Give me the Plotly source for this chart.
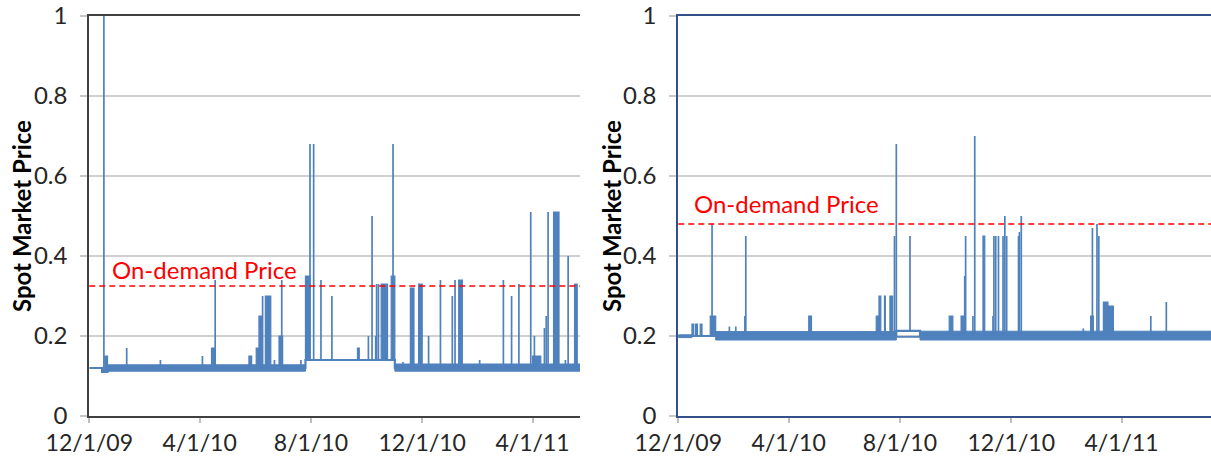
import plotly.graph_objects as go
import pandas as pd

FONT = "Lato"
BLUE = "#4F81BD"

tick_vals = ["2009-12-01", "2010-04-01", "2010-08-01", "2010-12-01", "2011-04-01"]
tick_text = ["12/1/09", "4/1/10", "8/1/10", "12/1/10", "4/1/11"]
y_ticks = [0, 0.2, 0.4, 0.6, 0.8, 1]
y_tick_text = ["0", "0.2", "0.4", "0.6", "0.8", "1"]

# ---------------- left chart data ----------------
left_range = ["2009-12-01", "2011-05-23"]
left_on_demand = 0.325
left_level_dates = ["2009-12-01", "2009-12-15", "2009-12-21", "2010-07-26", "2010-11-01", "2011-05-23"]
left_level_values = [0.12, 0.11, 0.12, 0.14, 0.12, 0.12]
left_band_start = ["2009-12-21", "2010-11-01"]
left_band_end = ["2010-07-26", "2011-05-23"]
left_band_low = [0.112, 0.112]
left_band_high = [0.128, 0.13]
left_spike_dates = ["2009-12-17", "2010-01-11", "2010-02-17", "2010-04-04", "2010-04-18",
                    "2010-06-09", "2010-06-22", "2010-06-30", "2010-07-21", "2010-07-31",
                    "2010-08-04", "2010-08-12", "2010-08-24", "2010-10-03", "2010-10-07",
                    "2010-10-11", "2010-10-12", "2010-10-14", "2010-10-30", "2010-11-10",
                    "2010-12-08", "2010-12-21", "2011-01-03", "2011-01-06", "2011-02-02",
                    "2011-02-15", "2011-02-28", "2011-03-09", "2011-03-17", "2011-03-30",
                    "2011-04-03", "2011-04-14", "2011-04-16", "2011-04-18", "2011-05-07",
                    "2011-05-10"]
left_spike_values = [1.0, 0.17, 0.14, 0.15, 0.34,
                     0.30, 0.14, 0.34, 0.14, 0.68,
                     0.68, 0.34, 0.30, 0.20, 0.50,
                     0.20, 0.33, 0.33, 0.68, 0.135,
                     0.20, 0.34, 0.30, 0.34, 0.14,
                     0.13, 0.34, 0.30, 0.33, 0.51,
                     0.20, 0.22, 0.25, 0.51, 0.14,
                     0.40]
left_block_start = ["2009-12-18", "2010-04-14", "2010-05-25", "2010-06-02", "2010-06-05",
                    "2010-06-12", "2010-06-27", "2010-07-26", "2010-09-21", "2010-10-17",
                    "2010-10-28", "2010-11-18", "2010-11-27", "2011-01-10", "2011-04-01",
                    "2011-04-24", "2011-05-17"]
left_block_end = ["2009-12-21", "2010-04-18", "2010-05-28", "2010-06-05", "2010-06-08",
                  "2010-06-18", "2010-07-01", "2010-07-31", "2010-09-23", "2010-10-24",
                  "2010-11-01", "2010-11-22", "2010-12-01", "2011-01-14", "2011-04-10",
                  "2011-04-30", "2011-05-20"]
left_block_values = [0.15, 0.17, 0.15, 0.17, 0.25,
                     0.30, 0.20, 0.35, 0.17, 0.33,
                     0.35, 0.32, 0.33, 0.34, 0.15,
                     0.51, 0.33]

# ---------------- right chart data ----------------
right_range = ["2009-12-01", "2011-07-08"]
right_on_demand = 0.48
right_level_dates = ["2009-12-01", "2010-07-28", "2010-08-23", "2011-07-08"]
right_level_values = [0.2, 0.213, 0.2, 0.2]
right_band_start = ["2009-12-01", "2010-01-11", "2010-07-28", "2010-08-23"]
right_band_end = ["2009-12-16", "2010-07-28", "2010-08-23", "2011-07-08"]
right_band_low = [0.196, 0.19, 0.197, 0.19]
right_band_high = [0.203, 0.211, 0.199, 0.212]
right_spike_dates = ["2010-01-07", "2010-01-26", "2010-02-02", "2010-02-12", "2010-02-13",
                     "2010-07-26", "2010-07-28", "2010-08-12", "2010-10-11", "2010-10-12",
                     "2010-10-20", "2010-10-22", "2010-11-11", "2010-11-12", "2010-11-14",
                     "2010-11-17", "2010-11-22", "2010-11-24", "2010-11-26", "2010-12-09",
                     "2010-12-10", "2010-12-12", "2011-02-18", "2011-02-28", "2011-03-05",
                     "2011-03-07", "2011-05-03", "2011-05-20"]
right_spike_values = [0.48, 0.224, 0.224, 0.25, 0.45,
                      0.45, 0.68, 0.45, 0.35, 0.45,
                      0.25, 0.70, 0.25, 0.45, 0.45,
                      0.45, 0.45, 0.50, 0.45, 0.45,
                      0.46, 0.50, 0.219, 0.47, 0.48,
                      0.45, 0.25, 0.285]
right_block_start = ["2009-12-16", "2009-12-20", "2009-12-25", "2010-01-05", "2010-04-23",
                     "2010-07-06", "2010-07-09", "2010-07-15", "2010-07-21", "2010-09-24",
                     "2010-10-07", "2010-10-31", "2011-02-26", "2011-03-12", "2011-03-17"]
right_block_end = ["2009-12-18", "2009-12-22", "2009-12-27", "2010-01-11", "2010-04-26",
                   "2010-07-09", "2010-07-11", "2010-07-16", "2010-07-24", "2010-09-28",
                   "2010-10-10", "2010-11-02", "2011-03-01", "2011-03-17", "2011-03-23"]
right_block_values = [0.23, 0.23, 0.23, 0.25, 0.25,
                      0.25, 0.30, 0.30, 0.30, 0.25,
                      0.25, 0.45, 0.25, 0.285, 0.275]


def level_at(level_dates, level_values, d):
    ts = pd.to_datetime(level_dates)
    t = pd.Timestamp(d)
    val = level_values[0]
    for td, v in zip(ts, level_values):
        if td <= t:
            val = v
    return val


def add_panel(fig, col, level_dates, level_values, band_start, band_end, band_low, band_high,
              spike_dates, spike_values, block_start, block_end, block_values):
    xa = "x" if col == 1 else "x2"
    ya = "y" if col == 1 else "y2"
    # noisy bands (one closed polygon each)
    for s, e, lo, hi in zip(band_start, band_end, band_low, band_high):
        fig.add_trace(go.Scatter(x=[s, s, e, e, s], y=[lo, hi, hi, lo, lo], mode="lines",
                                 fill="toself", fillcolor=BLUE,
                                 line=dict(color=BLUE, width=1), hoverinfo="skip",
                                 showlegend=False, xaxis=xa, yaxis=ya))
    # plateaus of dense spikes
    for s, e, v in zip(block_start, block_end, block_values):
        b = level_at(level_dates, level_values, s)
        fig.add_trace(go.Scatter(x=[s, s, e, e, s], y=[b, v, v, b, b], mode="lines",
                                 fill="toself", fillcolor=BLUE,
                                 line=dict(color=BLUE, width=1.2), hoverinfo="skip",
                                 showlegend=False, xaxis=xa, yaxis=ya))
    # baseline level
    fig.add_trace(go.Scatter(x=level_dates, y=level_values, mode="lines",
                             line=dict(color=BLUE, width=2.2, shape="hv"),
                             showlegend=False, xaxis=xa, yaxis=ya))
    # spikes
    sx, sy = [], []
    for d, v in zip(spike_dates, spike_values):
        b = level_at(level_dates, level_values, d)
        sx += [d, d, None]
        sy += [b, v, None]
    fig.add_trace(go.Scatter(x=sx, y=sy, mode="lines", line=dict(color=BLUE, width=1.7),
                             showlegend=False, xaxis=xa, yaxis=ya))


fig = go.Figure()
add_panel(fig, 1, left_level_dates, left_level_values, left_band_start, left_band_end,
          left_band_low, left_band_high, left_spike_dates, left_spike_values,
          left_block_start, left_block_end, left_block_values)
add_panel(fig, 2, right_level_dates, right_level_values, right_band_start, right_band_end,
          right_band_low, right_band_high, right_spike_dates, right_spike_values,
          right_block_start, right_block_end, right_block_values)

W, H = 1211, 457
left_dom = [89.3 / W, 580 / W]
right_dom = [678.3 / W, 1.0]
FS = 24

xtickfont = dict(family=FONT, size=23, color="#262626")
ytickfont = dict(family=FONT, size=FS, color="#262626")
xcommon = dict(type="date", tickvals=tick_vals, ticktext=tick_text, tickfont=xtickfont,
               ticks="outside", ticklen=5, tickcolor="#bfbfbf", tickwidth=1.5,
               showgrid=False, zeroline=False, showline=True, linewidth=2.2, mirror=True,
               automargin=False, ticklabelstandoff=0)
ycommon = dict(range=[0, 1], tickvals=y_ticks, ticktext=y_tick_text, tickfont=ytickfont,
               ticks="outside", ticklen=7, tickcolor="#c8c8c8", tickwidth=1.5,
               showgrid=True, gridcolor="#d0d0d0", gridwidth=1.5, zeroline=False,
               showline=True, linewidth=2.2, mirror=False, ticklabelstandoff=8,
               automargin=False)

fig.update_layout(
    width=W, height=H,
    margin=dict(l=0, r=0, t=16, b=41, autoexpand=False),
    paper_bgcolor="white", plot_bgcolor="white",
    font=dict(family=FONT),
    xaxis=dict(domain=left_dom, range=left_range, linecolor="#404040", anchor="y", **xcommon),
    yaxis=dict(domain=[0, 1], linecolor="#404040", anchor="x", **ycommon),
    xaxis2=dict(domain=right_dom, range=right_range, linecolor="#34508a", anchor="y2", **xcommon),
    yaxis2=dict(domain=[0, 1], linecolor="#34508a", anchor="x2", **ycommon),
)

# on-demand price lines
for xr, yr, v in [("x domain", "y", left_on_demand), ("x2 domain", "y2", right_on_demand)]:
    fig.add_shape(type="line", xref=xr, yref=yr, x0=0, x1=1, y0=v, y1=v,
                  line=dict(color="#ff0000", width=1.5, dash="6px,4px"))

fig.add_annotation(text="On-demand Price", xref="x domain", yref="y", x=20.4 / 490.7,
                   y=0.367, xanchor="left", yanchor="middle", showarrow=False,
                   font=dict(family=FONT, size=FS, color="#ff0000"))
fig.add_annotation(text="On-demand Price", xref="x2 domain", yref="y2", x=14 / 532.7,
                   y=0.531, xanchor="left", yanchor="middle", showarrow=False,
                   font=dict(family=FONT, size=FS, color="#ff0000"))

for xc in [21 / W, 611 / W]:
    fig.add_annotation(text="<b>Spot Market Price</b>", xref="paper", yref="paper",
                       x=xc, y=0.5, xanchor="center", yanchor="middle", textangle=-90,
                       showarrow=False, font=dict(family=FONT, size=FS, color="#000000"))

fig.write_html("out.html")
